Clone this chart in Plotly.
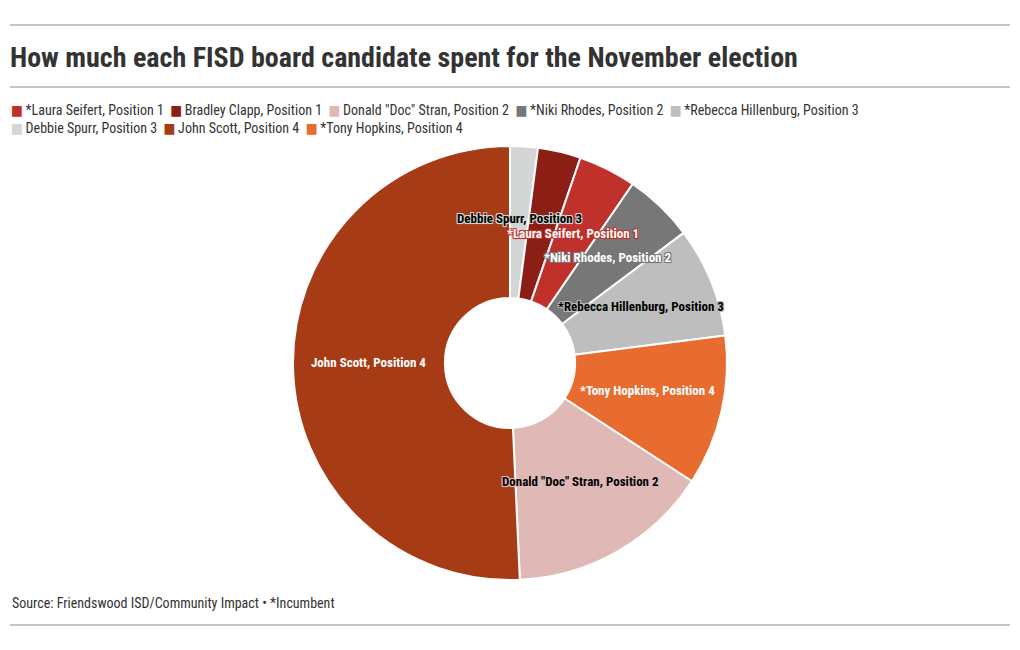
import math
import plotly.graph_objects as go

# ---- data ----
candidates = ['*Laura Seifert, Position 1', 'Bradley Clapp, Position 1', 'Donald "Doc" Stran, Position 2',
              '*Niki Rhodes, Position 2', '*Rebecca Hillenburg, Position 3', 'Debbie Spurr, Position 3',
              'John Scott, Position 4', '*Tony Hopkins, Position 4']
spent = [4300, 3200, 15100, 5200, 8200, 2060, 50700, 11200]
colors = ['#c0312c', '#8b1f16', '#e0b9b6', '#777777', '#bebebe', '#d4d5d5', '#a63b15', '#e86b30']
label_color = ['white', None, 'black', 'white', 'black', 'black', 'white', 'white']
legend_rows = [[0, 1, 2, 3, 4], [5, 6, 7]]

TITLE = "How much each FISD board candidate spent for the November election"
SOURCE = "Source: Friendswood ISD/Community Impact \u2022 *Incumbent"

FONT = "Roboto Condensed, Liberation Sans Narrow, DejaVu Sans Condensed, Roboto, sans-serif"
W, H = 1020, 650
ML, MR, MT, MB = 0, 0, 146, 70
HOLE = 0.3

# slices ascending, clockwise from 12 o'clock
order = sorted(range(len(spent)), key=lambda i: spent[i])

fig = go.Figure()
fig.add_trace(go.Pie(
    labels=[candidates[i] for i in order], values=[spent[i] for i in order], hole=HOLE,
    sort=False, direction='clockwise', rotation=0,
    marker=dict(colors=[colors[i] for i in order], line=dict(color='white', width=2)),
    textinfo='none', showlegend=False, hoverinfo='label+value',
    domain=dict(x=[0, 1], y=[0, 1]),
))

# slice labels computed from data
pw, ph = W - ML - MR, H - MT - MB
R = min(pw, ph) / 2
r_lab = R * (1 + HOLE) / 2
total = sum(spent)
ann = []
start = 0.0
for i in order:
    frac = spent[i] / total
    mid = (start + frac / 2) * 2 * math.pi
    start += frac
    if label_color[i] is None:
        continue
    dx = r_lab * math.sin(mid)
    dy = r_lab * math.cos(mid)
    c = colors[i]
    shadow = f"-1px -1px 0 {c}, 1px -1px 0 {c}, -1px 1px 0 {c}, 1px 1px 0 {c}, 0 1px 1px {c}"
    ann.append(dict(
        x=0.5 + dx / pw, y=0.5 + dy / ph, xref='paper', yref='paper',
        text=f"<b>{candidates[i]}</b>", showarrow=False, yshift=3.5,
        font=dict(family=FONT, size=13, color=label_color[i], shadow=shadow),
        xanchor='center', yanchor='middle',
    ))


def py(ypx):
    return (H - MB - ypx) / ph


# legend rows as text flow
NB = "\u00a0"
rows = []
for row in legend_rows:
    parts = [f'<span style="color:{colors[i]};font-size:14px">\u25a0</span>\u2009{candidates[i]}' for i in row]
    rows.append((NB * 2).join(parts))
ann.append(dict(x=10 / W, y=py(118.5), xref='paper', yref='paper', text="<br>".join(rows),
                showarrow=False, xanchor='left', yanchor='middle', align='left',
                font=dict(family=FONT, size=14, color='#333333'), borderpad=0))

ann.append(dict(x=10 / W, y=py(603), xref='paper', yref='paper', text=SOURCE, showarrow=False,
                xanchor='left', yanchor='middle', font=dict(family=FONT, size=14, color='#333333')))

shapes = [dict(type='line', xref='paper', yref='paper', x0=10 / W, x1=1010 / W, y0=py(yy), y1=py(yy),
               line=dict(color='#888888', width=1)) for yy in (25, 87, 625)]

fig.update_layout(
    width=W, height=H, margin=dict(l=ML, r=MR, t=MT, b=MB),
    paper_bgcolor='white', plot_bgcolor='white', showlegend=False,
    title=dict(text=f"<b>{TITLE}</b>", x=10 / W, xref='container', xanchor='left',
               y=1 - 57 / H, yref='container', yanchor='middle',
               font=dict(family=FONT, size=28, color='#333333')),
    annotations=ann, shapes=shapes,
)

fig.write_html("out.html")
